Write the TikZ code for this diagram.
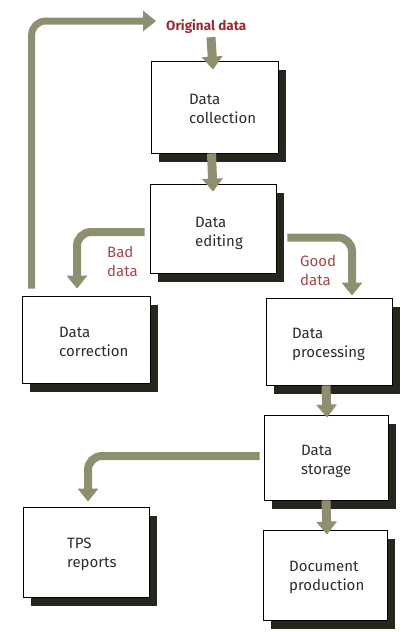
\documentclass[tikz,border=0pt]{standalone}
\usepackage{fontspec}
\setmainfont{Fira Sans}
\usetikzlibrary{arrows.meta,shadows,calc}
\definecolor{arr}{RGB}{142,142,112}
\definecolor{redt}{RGB}{165,70,72}
\definecolor{redo}{RGB}{150,45,55}
\definecolor{shad}{RGB}{38,38,30}
\definecolor{txt}{RGB}{45,45,40}
\begin{document}
\begin{tikzpicture}[x=1pt,y=-1pt,
  box/.style={draw=black, line width=0.8pt, fill=white, inner sep=0pt,
    drop shadow={shadow xshift=8pt,shadow yshift=-9pt,fill=shad,opacity=1}},
  lbl/.style={anchor=base west, align=left, inner sep=0pt,
    font=\fontsize{15}{19}\selectfont, text=txt},
  rlbl/.style={lbl, text=redt},
  flow/.style={draw=arr, line width=8pt, rounded corners=14pt,
    -{Triangle[width=20pt,length=13pt]}},
]
\useasboundingbox[fill=white] (0,0) rectangle (412,632);
% boxes
\node[box, minimum width=127pt, minimum height=92pt] (coll) at (214.5,107) {};
\node[box, minimum width=126pt, minimum height=89pt] (edit) at (213,228.5) {};
\node[box, minimum width=128pt, minimum height=87pt] (corr) at (86,339.5) {};
\node[box, minimum width=126pt, minimum height=87pt] (proc) at (329,341.5) {};
\node[box, minimum width=124pt, minimum height=85pt] (stor) at (326,457.5) {};
\node[box, minimum width=126pt, minimum height=90pt] (tps) at (86,552) {};
\node[box, minimum width=124pt, minimum height=90pt] (doc) at (325,575) {};
% texts (anchor = baseline of the last line)
\node[lbl] (coll-t) at (189,123) {Data\\collection};
\node[lbl] (edit-t) at (195,246) {Data\\editing};
\node[lbl] (corr-t) at (59,356) {Data\\correction};
\node[lbl] (proc-t) at (292,357) {Data\\processing};
\node[lbl] (stor-t) at (301,474) {Data\\storage};
\node[lbl] (tps-t) at (67,567) {TPS\\reports};
\node[lbl] (doc-t) at (289,590) {Document\\production};
\node[rlbl] (bad) at (107,276) {Bad\\data};
\node[rlbl] (good) at (300,285) {Good\\data};
\node[anchor=base west, inner sep=0pt, text=redo,
  font=\fontsize{13.5}{16}\bfseries\selectfont] (orig) at (166,30) {Original data};
% connectors
\coordinate (fbtip) at ($(orig.west)+(-10,-5)$);
\draw[flow, line width=7pt] ($(corr.north west)+(10,-7)$) |- (fbtip);
\draw[flow, line width=9pt] ($(orig.south west)+(45,4)$) -- ($(coll.north)+(-1.5,9)$);
\draw[flow, line width=9pt] ($(coll.south)+(-3,0)$) -- ($(edit.north)+(0,8)$);
\draw[flow] ($(edit.west)+(-5,3.5)$) -| ($(corr.north)+(-9,-7)$);
\draw[flow] ($(edit.east)+(11,9)$) -| ($(proc.north)+(23,-2)$);
\draw[flow, line width=9pt] ($(proc.south)+(-3,0)$) -- ($(stor.north)+(1,3)$);
\draw[flow] ($(stor.west)+(-4,-1.5)$) -| ($(tps.north)+(2,-5)$);
\draw[flow, line width=9pt] ($(stor.south)+(0,0)$) -- ($(doc.north)+(2,5)$);
\end{tikzpicture}
\end{document}
